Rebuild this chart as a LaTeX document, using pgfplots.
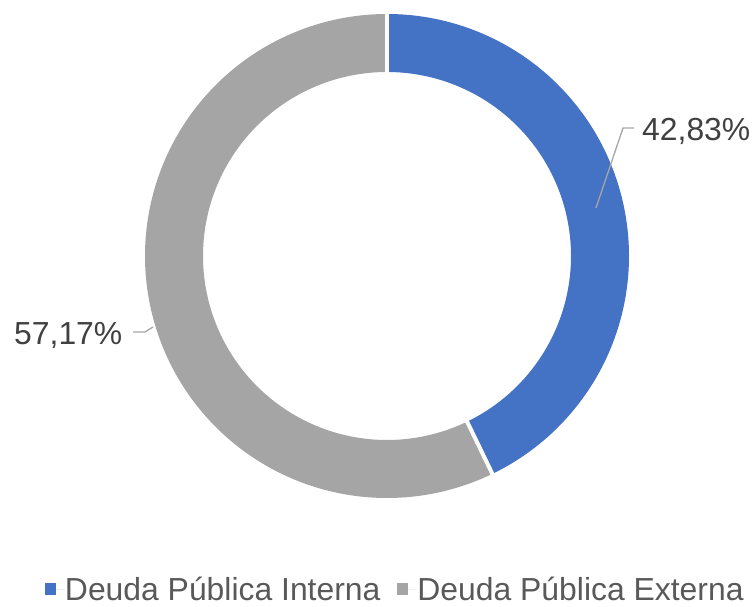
\documentclass[border=0pt]{standalone}
\usepackage{pgfplots}
\pgfplotsset{compat=1.18}
\usepackage{pgfplotstable}
\usepackage{fontspec}
\setmainfont{Liberation Sans}
\definecolor{sliceblue}{RGB}{68,114,196}
\definecolor{slicegray}{RGB}{165,165,165}
\definecolor{labeltext}{RGB}{64,64,64}
\definecolor{legendtext}{RGB}{89,89,89}
\definecolor{leader}{RGB}{166,166,166}

\pgfplotstableread{
cat value
Interna 42.83
Externa 57.17
}\donut
\pgfplotstablegetelem{0}{value}\of\donut
\let\vA\pgfplotsretval
\pgfmathsetmacro\aEnd{90-3.6*\vA}

\begin{document}
\begin{tikzpicture}
\begin{axis}[
  hide axis, scale only axis,
  width=756bp, height=607bp,
  xmin=0, xmax=756, ymin=-607, ymax=0,
  clip=false,
  legend columns=2,
  legend style={
    at={(axis cs:45,-589)}, anchor=west,
    draw=none, fill=none, inner sep=0pt, outer sep=0pt,
    font=\fontsize{32}{36}\selectfont,
    text=legendtext,
    nodes={inner sep=0pt, text height=25bp, text depth=3bp},
    /tikz/every even column/.append style={column sep=17bp},
  },
  legend image code/.code={
    \fill[#1] (0bp,-5.5bp) rectangle (11bp,5.5bp);
    \path (0bp,0bp) -- (20bp,0bp);
  },
]
% invisible frame for the page size
\addplot[draw=none, forget plot] coordinates {(0,0) (756,-607)};

% ring segments (thick arcs, mid radius 213, thickness 58)
\addplot[sliceblue, line width=58bp, domain=\aEnd:90, samples=200, variable=\t, forget plot]
  ({387+213*cos(\t)}, {-256+213*sin(\t)});
\addplot[slicegray, line width=58bp, domain=-270:\aEnd, samples=260, variable=\t, forget plot]
  ({387+213*cos(\t)}, {-256+213*sin(\t)});

% white separators
\addplot[white, line width=4bp, domain=180:246, samples=2, variable=\r, forget plot]
  ({387+\r*cos(90)}, {-256+\r*sin(90)});
\addplot[white, line width=4bp, domain=180:246, samples=2, variable=\r, forget plot]
  ({387+\r*cos(\aEnd)}, {-256+\r*sin(\aEnd)});

% leader lines
\addplot[leader, line width=1.3bp, forget plot] coordinates {(596,-208) (623,-128) (634,-128)};
\addplot[leader, line width=1.3bp, forget plot] coordinates {(133,-332) (145,-332) (153,-327)};

% legend entries
\addlegendimage{fill=sliceblue, draw=none}
\addlegendentry{Deuda Pública Interna}
\addlegendimage{fill=slicegray, draw=none}
\addlegendentry{Deuda Pública Externa}

% data labels
\node[anchor=base west, inner sep=0pt, text=labeltext, font=\fontsize{32}{36}\selectfont]
  at (axis cs:642,-141) {42,83\%};
\node[anchor=base west, inner sep=0pt, text=labeltext, font=\fontsize{32}{36}\selectfont]
  at (axis cs:14,-345) {57,17\%};
\end{axis}
\end{tikzpicture}
\end{document}
